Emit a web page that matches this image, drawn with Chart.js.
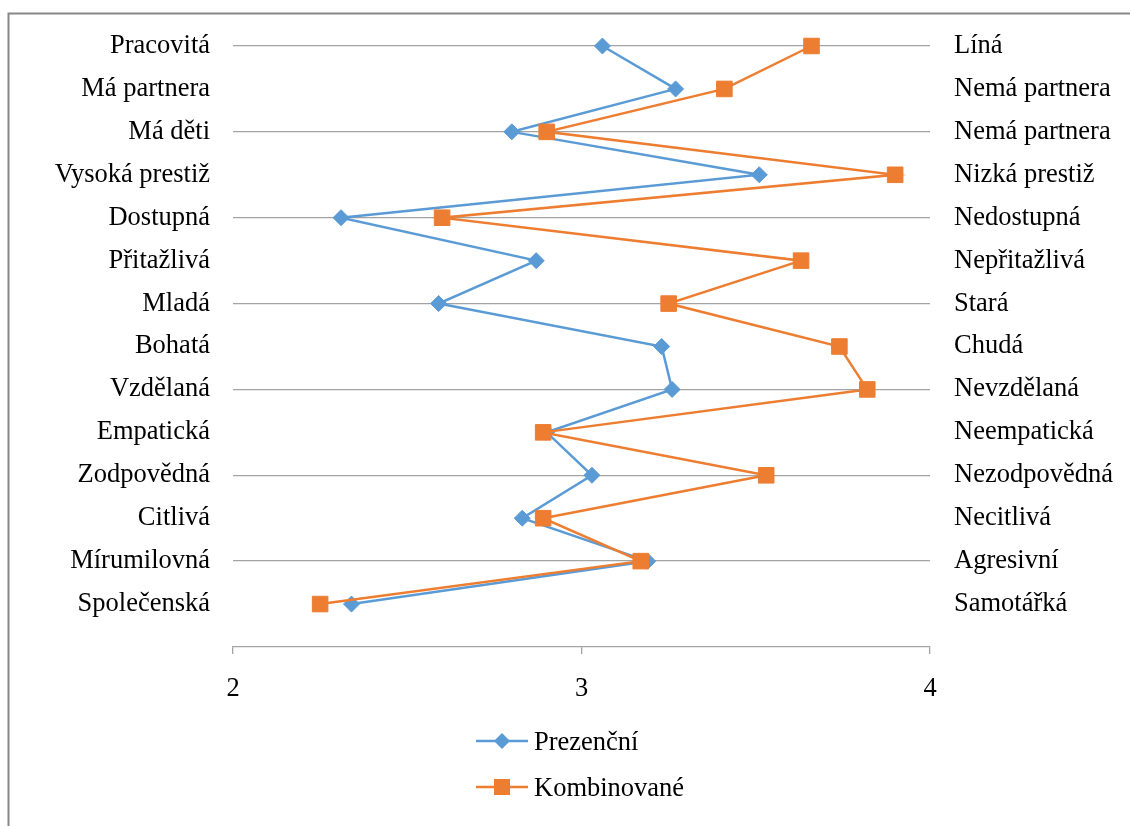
<!DOCTYPE html>
<html><head><meta charset="utf-8">
<script src="https://cdn.jsdelivr.net/npm/chart.js@4/dist/chart.umd.min.js"></script>
<style>html,body{margin:0;padding:0;background:#fff;overflow:hidden}canvas{display:block}</style>
</head><body>
<canvas id="c" width="1130" height="826"></canvas>
<script>
const leftLabels = ['Pracovitá','Má partnera','Má děti','Vysoká prestiž','Dostupná','Přitažlivá','Mladá','Bohatá','Vzdělaná','Empatická','Zodpovědná','Citlivá','Mírumilovná','Společenská'];
const rightLabels = ['Líná','Nemá partnera','Nemá partnera','Nizká prestiž','Nedostupná','Nepřitažlivá','Stará','Chudá','Nevzdělaná','Neempatická','Nezodpovědná','Necitlivá','Agresivní','Samotářká'];
const prezencni = [3.06, 3.27, 2.80, 3.51, 2.31, 2.87, 2.59, 3.23, 3.26, 2.90, 3.03, 2.83, 3.19, 2.34];
const kombinovane = [3.66, 3.41, 2.90, 3.90, 2.60, 3.63, 3.25, 3.74, 3.82, 2.89, 3.53, 2.89, 3.17, 2.25];
const seriesNames = ['Prezenční','Kombinované'];
const seriesColors = ['#5B9BD5','#ED7D31'];
const xMin = 2, xMax = 4, xStep = 1;

const n = leftLabels.length;
const toPoints = arr => arr.map((v,i)=>({x:v, y:n - i}));
const FONT = "'Liberation Serif','Times New Roman',serif";
const FS = 26.5;
const GRID = '#a3a3a3';

const framePlugin = {
  id:'frame',
  beforeDraw(chart){
    const ctx = chart.ctx; ctx.save();
    ctx.fillStyle = '#fff'; ctx.fillRect(0,0,chart.width,chart.height);
    ctx.strokeStyle = '#878787'; ctx.lineWidth = 2;
    ctx.strokeRect(8.5, 13.5, 1400, 1200);
    ctx.restore();
  }
};

const legendPlugin = {
  id:'customLegend',
  afterDraw(chart){
    const ctx = chart.ctx; ctx.save();
    const rows = [741, 787];
    chart.data.datasets.forEach((ds, i) => {
      const y = rows[i];
      ctx.strokeStyle = ds.borderColor; ctx.lineWidth = 2.5;
      ctx.beginPath(); ctx.moveTo(476, y); ctx.lineTo(528, y); ctx.stroke();
      ctx.fillStyle = ds.backgroundColor;
      ctx.beginPath();
      if (ds.pointStyle === 'rectRot') {
        const r = 8; ctx.moveTo(502 - r, y); ctx.lineTo(502, y - r); ctx.lineTo(502 + r, y); ctx.lineTo(502, y + r); ctx.closePath();
      } else {
        const s = 8; ctx.rect(502 - s, y - s, 2*s, 2*s);
      }
      ctx.fill();
      ctx.fillStyle = '#000'; ctx.font = FS + 'px ' + FONT; ctx.textBaseline = 'middle'; ctx.textAlign = 'left';
      ctx.fillText(ds.label, 534, y + 2);
    });
    ctx.restore();
  }
};

new Chart(document.getElementById('c'), {
  type: 'scatter',
  data: {
    datasets: [
      { label: seriesNames[0], data: toPoints(prezencni), showLine: true, borderColor: seriesColors[0], backgroundColor: seriesColors[0],
        borderWidth: 2.5, pointStyle: 'rectRot', pointRadius: 8, pointHoverRadius: 8, pointBorderWidth: 1, order: 2, tension: 0, clip: false },
      { label: seriesNames[1], data: toPoints(kombinovane), showLine: true, borderColor: seriesColors[1], backgroundColor: seriesColors[1],
        borderWidth: 2.5, pointStyle: 'rect', pointRadius: 11, pointHoverRadius: 11, pointBorderWidth: 1, order: 1, tension: 0, clip: false }
    ]
  },
  options: {
    responsive: false, devicePixelRatio: 1, animation: false,
    layout: { padding: { top: 46, left: 0, right: 0, bottom: 0 } },
    plugins: { legend: { display: false }, tooltip: { enabled: false } },
    events: [],
    scales: {
      x: {
        type: 'linear', position: 'bottom', min: xMin, max: xMax,
        afterFit(s){ s.height = 826 - 647; },
        border: { display: true, color: GRID, width: 1.3 },
        grid: { drawOnChartArea: false, drawTicks: true, tickLength: 7, color: GRID, lineWidth: 1.3 },
        ticks: { stepSize: xStep, padding: 19, color: '#000', font: { family: FONT, size: FS } }
      },
      y: {
        type: 'linear', position: 'left', min: 0, max: n,
        afterFit(s){ s.width = 233; },
        border: { display: false },
        grid: { drawTicks: false, lineWidth: 1.3,
          color: c => (c.tick && c.tick.value > 0 && c.tick.value % 2 === 0) ? GRID : 'rgba(0,0,0,0)' },
        ticks: { stepSize: 1, autoSkip: false, padding: 23, color: '#000', font: { family: FONT, size: FS },
          callback: v => (v >= 1 && v <= n) ? leftLabels[n - v] : '' }
      },
      y2: {
        type: 'linear', position: 'right', min: 0, max: n,
        afterFit(s){ s.width = 200; },
        border: { display: false },
        grid: { display: false, drawTicks: false },
        ticks: { stepSize: 1, autoSkip: false, padding: 24, color: '#000', font: { family: FONT, size: FS },
          callback: v => (v >= 1 && v <= n) ? rightLabels[n - v] : '' }
      }
    }
  },
  plugins: [framePlugin, legendPlugin]
});
</script>
</body></html>
